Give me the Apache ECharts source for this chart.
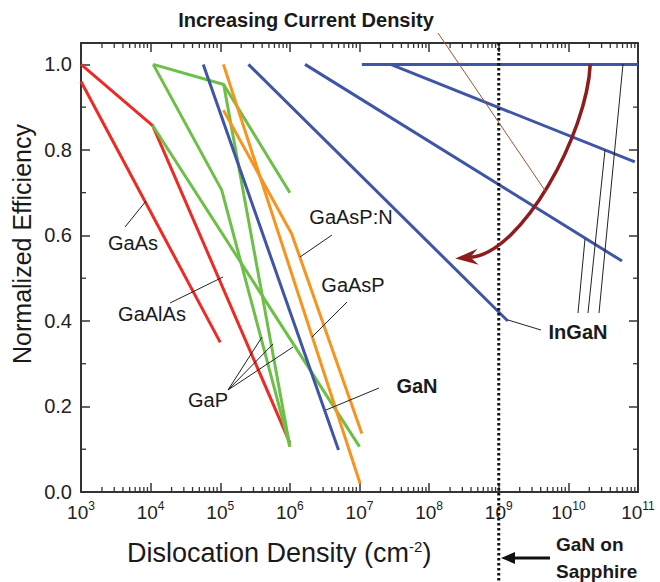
<!DOCTYPE html>
<html><head><meta charset="utf-8">
<script src="https://cdn.jsdelivr.net/npm/echarts@6/dist/echarts.min.js"></script>
<style>html,body{margin:0;padding:0;background:#fff}#c{width:660px;height:582px}</style>
</head><body><div id="c"></div>
<script>
const FONT = '"Liberation Sans", Arial, Helvetica, sans-serif';

// ---- axis ticks ----
const xDecades = [3, 4, 5, 6, 7, 8, 9, 10, 11];
const xMinorMultipliers = [2, 3, 4, 5, 6, 7, 8, 9];
const yTicks = [0, 0.2, 0.4, 0.6, 0.8, 1.0];
const yTickLabels = ['0.0', '0.2', '0.4', '0.6', '0.8', '1.0'];
const yMinorTicks = [0.1, 0.3, 0.5, 0.7, 0.9];

// ---- series values [dislocation density, normalized efficiency] ----
const gaAs    = [[1e3, 0.96], [1e5, 0.35]];
const gaAlAs  = [[1e3, 1.0], [1.07e4, 0.857], [1e6, 0.115]];
const gaP1    = [[1.09e4, 1.0], [1.12e5, 0.953], [1e6, 0.70]];
const gaP2    = [[1.12e5, 0.953], [1e6, 0.106]];
const gaP3    = [[1.09e4, 1.0], [1.05e5, 0.706], [1e6, 0.106]];
const gaP4    = [[1.07e4, 0.857], [1e7, 0.106]];
const gaAsP   = [[1.11e5, 1.0], [1.02e7, 0.02]];
const gaAsPN  = [[1.11e5, 0.893], [1.06e6, 0.604], [1.08e7, 0.137]];
const gaN     = [[5.7e4, 1.0], [5e6, 0.098]];
const inGaN1  = [[2.54e5, 1.0], [1.35e9, 0.40]];
const inGaN2  = [[1.65e6, 1.0], [5.9e10, 0.54]];
const inGaN3  = [[1.08e7, 1.0], [1e11, 1.0]];
const inGaN4  = [[2.8e7, 1.0], [9e10, 0.772]];

// ---- annotation geometry in data space ----
const sapphireDensity = 1e9;
const arrowStart = [2.06e10, 1.0];
const arrowCtrl1 = [1.86e10, 0.839];
const arrowCtrl2 = [2.17e9, 0.558];
const arrowTip   = [2.37e8, 0.546];

const RED = '#ee2a24', GREEN = '#6cbf47', BLUE = '#3f55a6', ORANGE = '#f7941e';
const seriesDefs = [
  {name: 'GaAs', data: gaAs, color: RED},
  {name: 'GaAlAs', data: gaAlAs, color: RED},
  {name: 'GaP1', data: gaP1, color: GREEN},
  {name: 'GaP2', data: gaP2, color: GREEN},
  {name: 'GaP3', data: gaP3, color: GREEN},
  {name: 'GaP4', data: gaP4, color: GREEN},
  {name: 'GaN', data: gaN, color: BLUE},
  {name: 'GaAsP', data: gaAsP, color: ORANGE},
  {name: 'GaAsP:N', data: gaAsPN, color: ORANGE},
  {name: 'InGaN1', data: inGaN1, color: BLUE},
  {name: 'InGaN2', data: inGaN2, color: BLUE},
  {name: 'InGaN3', data: inGaN3, color: BLUE},
  {name: 'InGaN4', data: inGaN4, color: BLUE}
];

const chart = echarts.init(document.getElementById('c'), null, {renderer: 'svg', width: 660, height: 582});

const AX = '#333';
function xAxisDef(pos, showLabel) {
  return {
    type: 'log', logBase: 10, min: 1e3, max: 1e11, position: pos,
    axisLine: {show: true, onZero: false, lineStyle: {color: AX, width: 2}},
    axisTick: {show: true, inside: true, length: 9, lineStyle: {color: AX, width: 1.5}},
    splitLine: {show: false}, minorTick: {show: false},
    axisLabel: {
      show: showLabel, margin: 8,
      formatter: function (v) { return '{b|10}{s|' + Math.round(Math.log10(v)) + '}'; },
      rich: {
        b: {fontSize: 19, fontFamily: FONT, color: '#222'},
        s: {fontSize: 12, fontFamily: FONT, color: '#222', padding: [0, 0, 12, 0]}
      }
    }
  };
}
function yAxisDef(pos, showLabel) {
  return {
    type: 'value', min: 0, max: 1.05, interval: 0.2, position: pos,
    axisLine: {show: true, onZero: false, lineStyle: {color: AX, width: 2}},
    axisTick: {show: true, inside: true, length: 9, lineStyle: {color: AX, width: 1.5}},
    splitLine: {show: false},
    axisLabel: {
      show: showLabel, margin: 9, showMaxLabel: false,
      fontSize: 20, fontFamily: FONT, color: '#222',
      formatter: function (v) {
        const i = yTicks.findIndex(t => Math.abs(t - v) < 1e-6);
        return i >= 0 ? yTickLabels[i] : '';
      }
    }
  };
}

function tickRender(params, api) {
  const children = [];
  const tick = (x1, y1, x2, y2) => children.push({type: 'line', shape: {x1, y1, x2, y2}, style: {stroke: AX, lineWidth: 1.3}});
  xDecades.slice(0, -1).forEach(d => xMinorMultipliers.forEach(m => {
    const v = m * Math.pow(10, d);
    const b = api.coord([v, 0]), t = api.coord([v, 1.05]);
    tick(b[0], b[1], b[0], b[1] - 5);
    tick(t[0], t[1], t[0], t[1] + 5);
  }));
  yMinorTicks.forEach(v => {
    const l = api.coord([1e3, v]), r = api.coord([1e11, v]);
    tick(l[0], l[1], l[0] + 5, l[1]);
    tick(r[0], r[1], r[0] - 5, r[1]);
  });
  return {type: 'group', children};
}

function dottedRender(params, api) {
  const top = api.coord([sapphireDensity, 1.05]);
  return {type: 'line', shape: {x1: top[0], y1: top[1], x2: top[0], y2: 582},
    style: {stroke: '#111', lineWidth: 3, lineDash: [2.4, 2.6]}};
}

function arrowRender(params, api) {
  const s = api.coord(arrowStart), c1 = api.coord(arrowCtrl1), c2 = api.coord(arrowCtrl2), tip = api.coord(arrowTip);
  const dx = tip[0] - c2[0], dy = tip[1] - c2[1];
  const L = Math.hypot(dx, dy), ux = dx / L, uy = dy / L, px = -uy, py = ux;
  const len = 23, hw = 8, notch = 15;
  const base = [tip[0] - ux * len, tip[1] - uy * len];
  const nb = [tip[0] - ux * notch, tip[1] - uy * notch];
  const head = [tip, [base[0] + px * hw, base[1] + py * hw], nb, [base[0] - px * hw, base[1] - py * hw]];
  return {type: 'group', children: [
    {type: 'bezierCurve', shape: {x1: s[0], y1: s[1], cpx1: c1[0], cpy1: c1[1], cpx2: c2[0], cpy2: c2[1], x2: nb[0], y2: nb[1]},
     style: {stroke: '#8e1c1c', lineWidth: 3.5, fill: null}},
    {type: 'polygon', shape: {points: head}, style: {fill: '#8e1c1c'}}
  ]};
}

const series = seriesDefs.map(s => ({
  name: s.name, type: 'line', data: s.data, symbol: 'none', silent: true,
  lineStyle: {color: s.color, width: 3}, itemStyle: {color: s.color}, z: 3
}));
series.push({type: 'custom', renderItem: tickRender, data: [[1e9, 0.5]], encode: {x: 0, y: 1}, z: 5, silent: true});
series.push({type: 'custom', renderItem: dottedRender, data: [[1e9, 0.5]], encode: {x: 0, y: 1}, z: 6, silent: true, clip: false});
series.push({type: 'custom', renderItem: arrowRender, data: [[1e9, 0.5]], encode: {x: 0, y: 1}, z: 7, silent: true});

const T = '#1a1a1a';
function lbl(text, x, y, bold, size) {
  return {type: 'text', x, y, z: 20, style: {text, fill: T, font: (bold ? 'bold ' : '') + (size || 20) + 'px ' + FONT, align: 'center', verticalAlign: 'middle'}};
}
function seg(x1, y1, x2, y2, w, c) {
  return {type: 'line', z: 19, shape: {x1, y1, x2, y2}, style: {stroke: c || '#222', lineWidth: w || 1}};
}

const graphic = [
  lbl('Increasing Current Density', 306, 20, true, 20),
  lbl('GaAs', 133, 243),
  lbl('GaAlAs', 152, 314),
  lbl('GaP', 208, 400),
  lbl('GaAsP:N', 351, 217),
  lbl('GaAsP', 353, 285),
  lbl('GaN', 417, 386, true),
  lbl('InGaN', 578, 332, true),
  {type: 'text', x: 556, y: 544, z: 20, style: {text: 'GaN on', fill: T, font: 'bold 19px ' + FONT, align: 'left', verticalAlign: 'middle'}},
  {type: 'text', x: 556, y: 571, z: 20, style: {text: 'Sapphire', fill: T, font: 'bold 19px ' + FONT, align: 'left', verticalAlign: 'middle'}},
  {type: 'text', x: 22, y: 244, rotation: Math.PI / 2, z: 20,
   style: {text: 'Normalized Efficiency', fill: T, font: '25px ' + FONT, align: 'center', verticalAlign: 'middle'}},
  {type: 'text', x: 127, y: 553, z: 20,
   style: {text: '{a|Dislocation Density (cm}{s|-2}{a|)}', align: 'left', verticalAlign: 'middle',
     rich: {a: {fontSize: 27, fontFamily: FONT, fill: T}, s: {fontSize: 15, fontFamily: FONT, fill: T, padding: [0, 0, 14, 0]}}}},
  // leader lines
  seg(125, 227, 146, 201),
  seg(170, 303, 223, 277),
  seg(228, 390, 262, 337), seg(228, 390, 273, 344), seg(228, 390, 293, 347),
  seg(332, 235, 300, 257),
  seg(347, 302, 312, 337),
  seg(379, 388, 326, 410),
  seg(508, 320, 541, 330),
  seg(578, 313, 585, 239), seg(588, 313, 605, 150), seg(599, 313, 623, 64),
  seg(438, 33, 546, 192, 1, '#a0522d'),
  // GaN on sapphire arrow
  seg(512, 558, 550, 558, 3, '#111'),
  {type: 'polygon', z: 19, shape: {points: [[501, 558], [515, 552], [515, 564]]}, style: {fill: '#111'}}
];

chart.setOption({
  animation: false,
  backgroundColor: '#fff',
  grid: {left: 81, right: 22, top: 43, bottom: 90, containLabel: false, outerBoundsMode: 'none'},
  xAxis: [xAxisDef('bottom', true), xAxisDef('top', false)],
  yAxis: [yAxisDef('left', true), yAxisDef('right', false)],
  series,
  graphic
});
</script></body></html>
